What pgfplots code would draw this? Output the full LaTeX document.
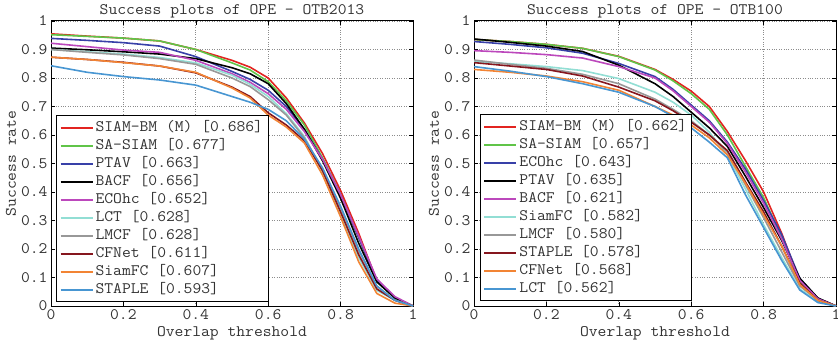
\documentclass[border=0pt]{standalone}
\usepackage{fontspec}
\setmainfont{Latin Modern Mono}[FakeStretch=1.07]
\usepackage{pgfplots}
\usepackage{pgfplotstable}
\pgfplotsset{compat=1.18}
\definecolor{cRed}{RGB}{226,36,32}
\definecolor{cGreen}{RGB}{96,196,72}
\definecolor{cBlue}{RGB}{56,64,168}
\definecolor{cBlack}{RGB}{0,0,0}
\definecolor{cMag}{RGB}{188,72,188}
\definecolor{cCyan}{RGB}{146,222,212}
\definecolor{cGray}{RGB}{152,152,152}
\definecolor{cDred}{RGB}{134,22,30}
\definecolor{cOrange}{RGB}{242,132,52}
\definecolor{cLblue}{RGB}{72,150,210}

\pgfplotstableread{
t    a    b    c    d    e    f    g    h    i    j
0    .955 .952 .939 .905 .922 .900 .900 .873 .873 .843
0.1  .947 .946 .932 .899 .910 .892 .890 .865 .865 .820
0.2  .940 .940 .924 .892 .898 .884 .881 .855 .854 .805
0.3  .930 .930 .912 .884 .890 .872 .868 .842 .842 .793
0.4  .900 .900 .875 .868 .862 .853 .848 .818 .820 .775
0.5  .862 .853 .823 .836 .815 .810 .800 .768 .765 .735
0.55 .838 .828 .795 .815 .785 .778 .770 .735 .730 .715
0.6  .800 .787 .757 .780 .745 .735 .724 .678 .670 .690
0.65 .730 .720 .700 .710 .690 .675 .670 .635 .628 .650
0.7  .642 .635 .620 .620 .612 .595 .590 .580 .572 .585
0.75 .535 .520 .515 .510 .515 .470 .480 .475 .460 .485
0.8  .405 .390 .390 .378 .390 .320 .345 .330 .313 .350
0.85 .255 .240 .240 .220 .245 .170 .195 .180 .155 .200
0.9  .088 .085 .090 .085 .095 .055 .070 .060 .044 .070
0.95 .030 .028 .030 .028 .033 .020 .020 .020 .010 .020
1    0    0    0    0    0    0    0    0    0    0
}\otbA

\pgfplotstableread{
t    a    b    c    d    e    f    g    h    i    j
0    .935 .935 .928 .937 .896 .858 .863 .854 .830 .840
0.1  .928 .928 .918 .925 .890 .850 .848 .842 .820 .824
0.2  .918 .918 .906 .912 .882 .840 .834 .830 .807 .805
0.3  .904 .904 .887 .893 .870 .826 .813 .807 .787 .780
0.4  .876 .875 .851 .845 .840 .798 .780 .768 .757 .750
0.5  .830 .828 .805 .780 .800 .750 .726 .720 .700 .700
0.55 .795 .790 .760 .735 .755 .715 .690 .685 .670 .665
0.6  .754 .745 .705 .680 .700 .670 .650 .645 .635 .625
0.65 .700 .690 .650 .625 .645 .610 .600 .600 .590 .575
0.7  .612 .600 .575 .560 .570 .530 .540 .545 .530 .520
0.75 .510 .490 .480 .455 .470 .410 .425 .435 .430 .390
0.8  .400 .380 .370 .345 .360 .285 .310 .330 .320 .275
0.85 .255 .240 .250 .230 .235 .170 .190 .210 .210 .160
0.9  .088 .085 .097 .097 .090 .060 .070 .080 .075 .056
0.95 .025 .025 .027 .028 .025 .015 .020 .020 .020 .012
1    0    0    0    0    0    0    0    0    0    0
}\otbB

\pgfplotsset{
  myaxis/.style={
    scale only axis, width=362pt, height=285pt,
    xmin=0, xmax=1, ymin=0, ymax=1,
    xtick={0,0.2,0.4,0.6,0.8,1},
    ytick={0,0.1,0.2,0.3,0.4,0.5,0.6,0.7,0.8,0.9,1},
    grid=major,
    major grid style={dotted, black!45, line width=0.7pt},
    tick align=inside, tick pos=both, major tick length=4pt,
    axis line style={line width=1pt, black},
    every tick/.style={black, line width=0.6pt},
    font=\fontsize{16}{16}\selectfont,
    text=black!80,
    /pgf/number format/assume math mode=true,
    /pgf/number format/fixed,
    /pgf/number format/precision=1,
    xlabel={Overlap threshold}, ylabel={Success rate},
    title style={yshift=-7pt},
    ylabel style={yshift=-2pt},
    legend cell align=left,
    legend style={anchor=south west, draw=black, line width=1pt, fill=white,
      font=\fontsize{16}{16}\selectfont, inner sep=3pt, row sep=0pt,
      nodes={text height=10pt, text depth=3pt, inner ysep=2.5pt, inner xsep=2pt}},
    legend image code/.code={\draw[#1, line width=2pt] (0pt,0pt) -- (32pt,0pt);},
    every axis plot/.append style={line width=1.6pt, mark=none},
    cycle list={{cRed},{cGreen},{cBlue},{cBlack},{cMag},{cCyan},{cGray},{cDred},{cOrange},{cLblue}},
  }
}

\begin{document}
\begin{tikzpicture}
\begin{axis}[myaxis, at={(51pt,-306pt)}, anchor=south west,
  title={Success plots of OPE - OTB2013},
  legend style={at={(0.014,0.014)}}]
\foreach \c in {a,b,c,d,e,f,g,h,i,j}{\addplot table[x=t,y=\c]{\otbA};}
\legend{SIAM-BM (M) [0.686],SA-SIAM [0.677],PTAV [0.663],BACF [0.656],ECOhc [0.652],LCT [0.628],LMCF [0.628],CFNet [0.611],SiamFC [0.607],STAPLE [0.593]}
\end{axis}
\begin{axis}[myaxis, at={(474pt,-306pt)}, anchor=south west,
  title={Success plots of OPE - OTB100},
  legend style={at={(0.0165,0.0175)}}]
\foreach \c in {a,b,c,d,e,f,g,h,i,j}{\addplot table[x=t,y=\c]{\otbB};}
\legend{SIAM-BM (M) [0.662],SA-SIAM [0.657],ECOhc [0.643],PTAV [0.635],BACF [0.621],SiamFC [0.582],LMCF [0.580],STAPLE [0.578],CFNet [0.568],LCT [0.562]}
\end{axis}
\pgfresetboundingbox
\path[use as bounding box] (0pt,0pt) rectangle (838pt,-342pt);
\end{tikzpicture}
\end{document}
